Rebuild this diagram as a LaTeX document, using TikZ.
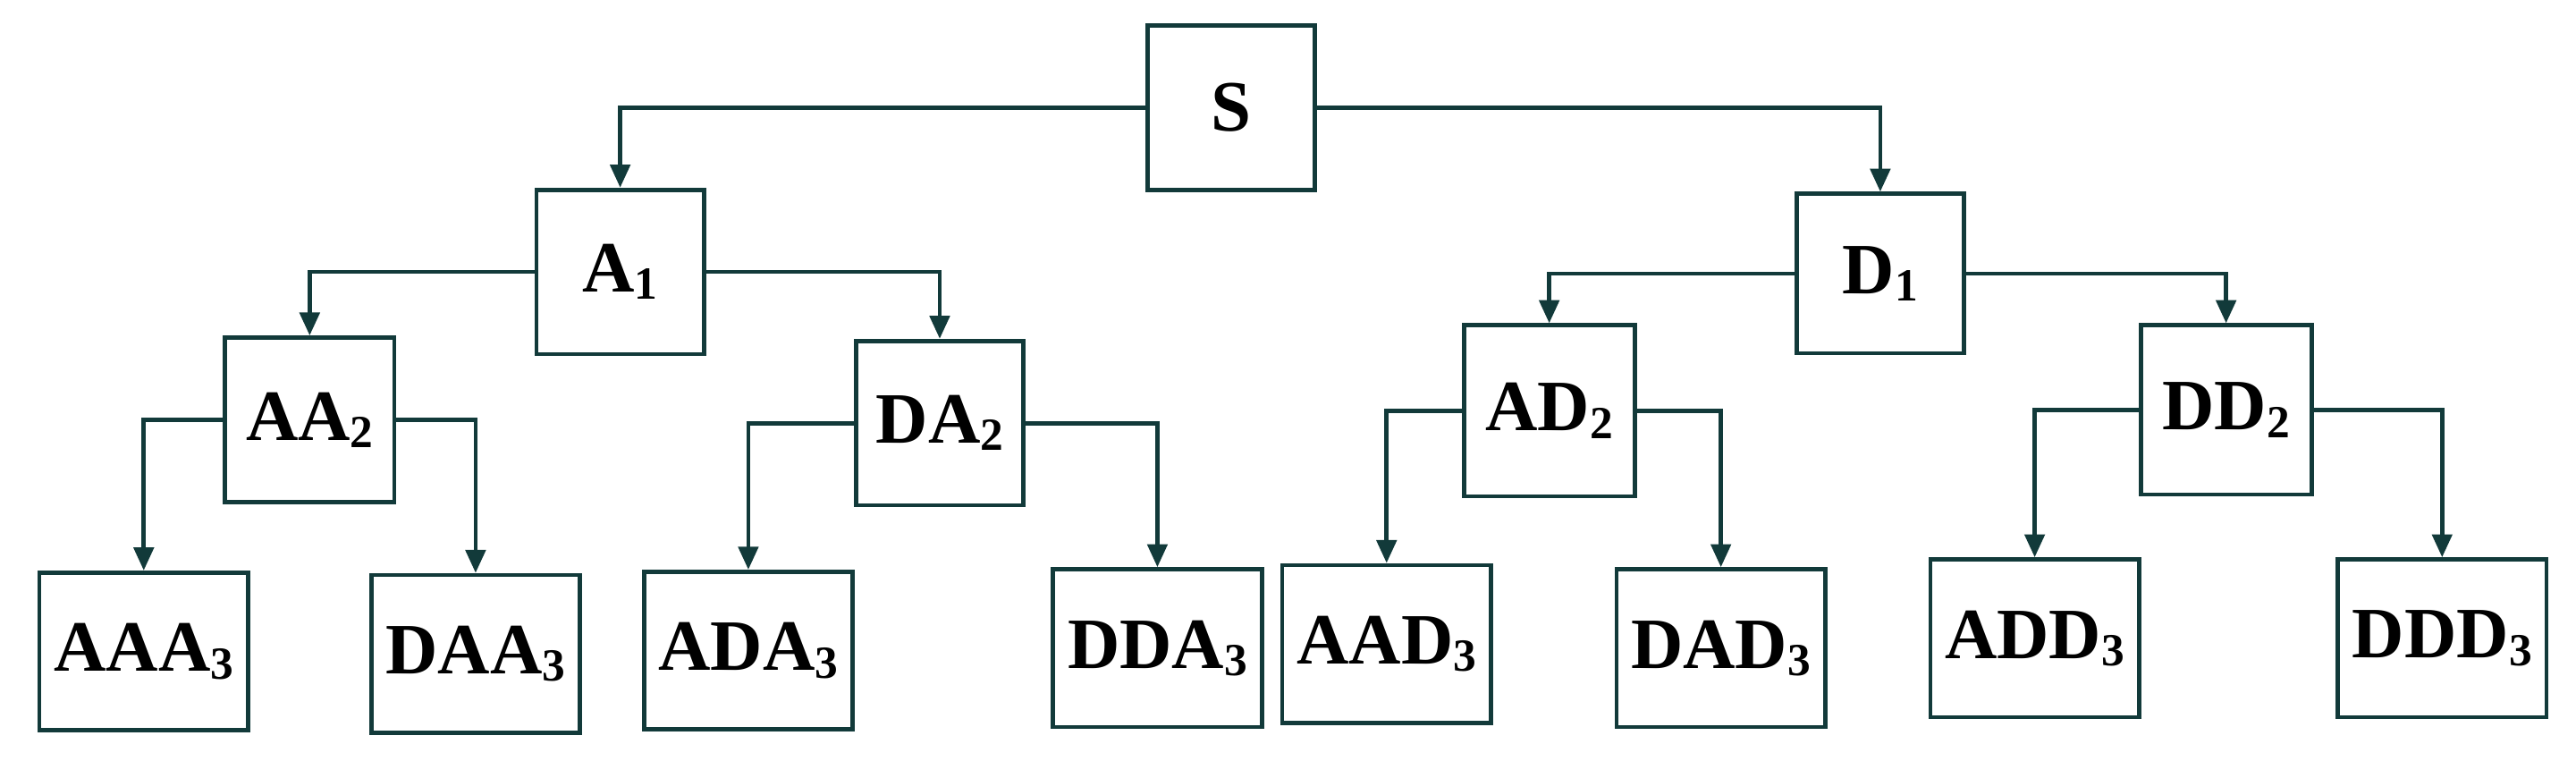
\documentclass[tikz,border=0pt]{standalone}
\usepackage{fontspec}
\setmainfont{Liberation Serif}[BoldFont={Liberation Serif Bold}]
\usetikzlibrary{arrows.meta}
\definecolor{ln}{HTML}{123A3A}
\newcommand{\lab}[2]{\textbf{#1}{\fontsize{14}{14}\selectfont\raisebox{-0.35ex}{\textbf{#2}}}}
\begin{document}
\begin{tikzpicture}[x=0.5pt,y=-0.5pt,
  box/.style={draw=ln,line width=1.3pt,fill=white,inner sep=0pt,font=\fontsize{22}{22}\selectfont},
  b2/.style={box,minimum width=51pt,minimum height=50pt},
  b3/.style={box,minimum width=63.5pt,minimum height=48pt},
  con/.style={draw=ln,line width=1.3pt,-{Triangle[length=7pt,width=6pt]}}]
\useasboundingbox (0,0) rectangle (1568,463);
\node[b2] (S) at (749.5,65.5) {\textbf{S}};
\node[b2] (A1) at (377.5,165.5) {\lab{A}{1}};
\node[b2,minimum height=48.5pt] (D1) at (1144.5,166.5) {\lab{D}{1}};
\node[b2,minimum width=51.5pt] (AA2) at (188.5,255.5) {\lab{AA}{2}};
\node[b2] (DA2) at (572,257.5) {\lab{DA}{2}};
\node[b2,minimum width=52pt,minimum height=52pt] (AD2) at (943,250) {\lab{AD}{2}};
\node[b2,minimum width=52pt,minimum height=51.5pt] (DD2) at (1355,249.5) {\lab{DD}{2}};
\node[b3] (AAA3) at (87.5,396.5) {\lab{AAA}{3}};
\node[b3] (DAA3) at (289.5,398) {\lab{DAA}{3}};
\node[b3] (ADA3) at (455.5,396) {\lab{ADA}{3}};
\node[b3] (DDA3) at (704.5,394.5) {\lab{DDA}{3}};
\node[b3] (AAD3) at (844,392) {\lab{AAD}{3}};
\node[b3] (DAD3) at (1047.5,394.5) {\lab{DAD}{3}};
\node[b3] (ADD3) at (1238.5,388.5) {\lab{ADD}{3}};
\node[b3] (DDD3) at (1486.5,388.5) {\lab{DDD}{3}};
\foreach \p/\c in {S/A1,S/D1,A1/AA2,A1/DA2,D1/AD2,D1/DD2,AA2/AAA3,AA2/DAA3,DA2/ADA3,DA2/DDA3,AD2/AAD3,AD2/DAD3,DD2/ADD3,DD2/DDD3}
  \draw[con] (\p) -| (\c.north);
\end{tikzpicture}
\end{document}
